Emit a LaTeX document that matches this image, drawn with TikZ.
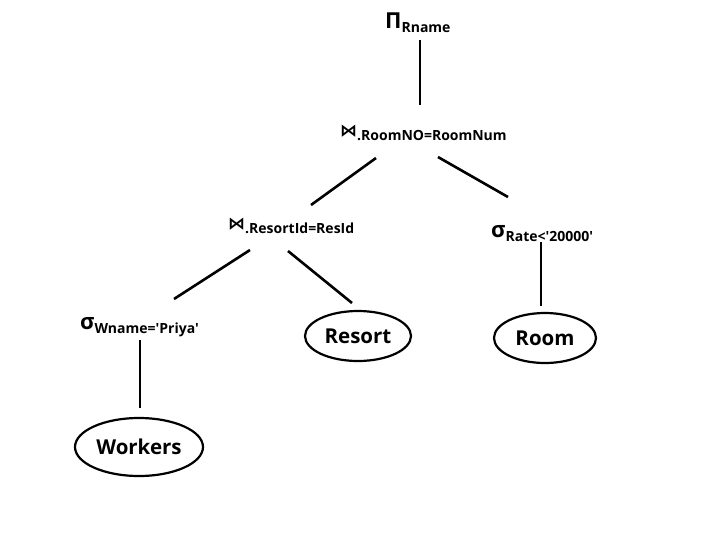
\documentclass[tikz,border=0pt]{standalone}
\usepackage{fontspec}
\setmainfont{Open Sans}
\newfontfamily\symfont{DejaVu Sans}
\usetikzlibrary{shapes.geometric}
\tikzset{
  lbl/.style={inner sep=0pt, anchor=base west, font=\bfseries},
  rel/.style={ellipse, draw, line width=2.2pt, inner sep=0pt, font=\bfseries\fontsize{20.5}{20.5}\selectfont},
  edge/.style={line width=2.6pt}
}
\newcommand{\bigsym}[1]{{\fontsize{22}{22}\selectfont #1}}
\newcommand{\subtx}[1]{{\fontsize{14}{14}\selectfont\raisebox{-4pt}{#1}}}
\newcommand{\joinsym}{{\symfont\bfseries\fontsize{17}{17}\selectfont ⋈}}
\newcommand{\q}{\textquotesingle}
\begin{document}
\begin{tikzpicture}[x=1pt,y=-1pt]
\useasboundingbox[fill=white] (0,0) rectangle (724,542);
% labels
\node[lbl] (pi) at (385,28) {\bigsym{Π}\subtx{Rname}};
\node[lbl] (j1) at (340,136) {\joinsym\subtx{.RoomNO=RoomNum}};
\node[lbl] (j2) at (228,229) {\joinsym\subtx{.ResortId=ResId}};
\node[lbl] (s1) at (491,237) {\bigsym{σ}\subtx{Rate<\q20000\q}};
\node[lbl] (s2) at (80,329) {\bigsym{σ}\subtx{Wname=\q Priya\q}};
% relations
\node[rel, minimum width=128pt, minimum height=58pt] (workers) at (139,447) {Workers};
\node[rel, minimum width=106pt, minimum height=50pt] (resort) at (358,336) {Resort};
\node[rel, minimum width=102pt, minimum height=50pt] (room) at (545,338) {Room};
% connector end points
\coordinate (a1) at (420,40);  \coordinate (a2) at (420,105);
\coordinate (b1) at (376,158); \coordinate (b2) at (311,205);
\coordinate (c1) at (438,157); \coordinate (c2) at (508,197);
\coordinate (d1) at (250,250); \coordinate (d2) at (174,299);
\coordinate (e1) at (288,251); \coordinate (e2) at (352,303);
\coordinate (f1) at (541,242); \coordinate (f2) at (541,306);
\coordinate (g1) at (140,340); \coordinate (g2) at (140,408);
\draw[edge] (a1) -- (a2);
\draw[edge] (b1) -- (b2);
\draw[edge] (c1) -- (c2);
\draw[edge] (d1) -- (d2);
\draw[edge] (e1) -- (e2);
\draw[edge] (f1) -- (f2);
\draw[edge] (g1) -- (g2);
\end{tikzpicture}
\end{document}
